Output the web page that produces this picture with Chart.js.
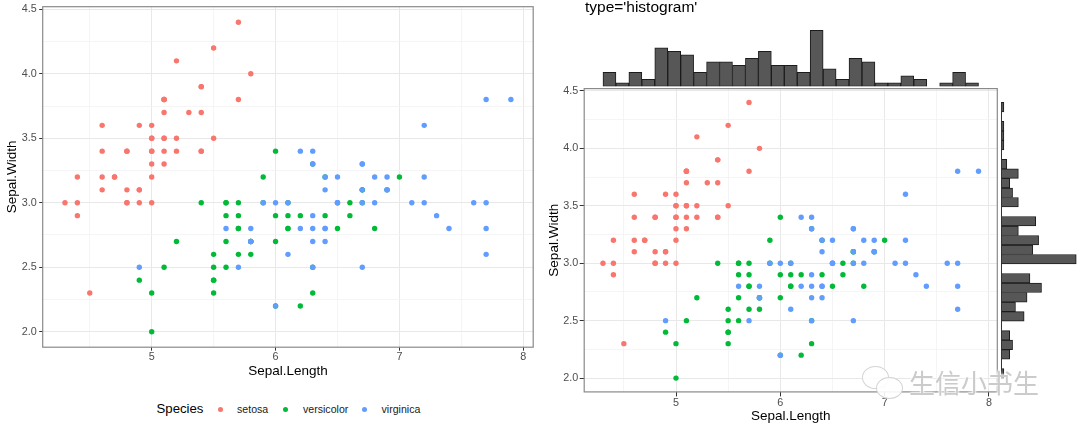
<!DOCTYPE html>
<html><head><meta charset="utf-8">
<script src="https://cdn.jsdelivr.net/npm/chart.js@4.4.1/dist/chart.umd.min.js"></script>
<style>
html,body{margin:0;padding:0;background:#fff;}
body{width:1080px;height:432px;position:relative;overflow:hidden;font-family:"Liberation Sans",Arial,sans-serif;}
canvas{position:absolute;}
.t{position:absolute;white-space:nowrap;}
.dot{position:absolute;width:5px;height:5px;border-radius:50%;}
</style></head><body>
<canvas id="cL" width="540" height="380" style="left:0;top:0;width:540px;height:380px"></canvas>
<canvas id="cR" width="460" height="352" style="left:540px;top:80px;width:460px;height:352px"></canvas>
<canvas id="cTop" width="420" height="70" style="left:580px;top:20px;width:420px;height:70px"></canvas>
<canvas id="cSide" width="82" height="352" style="left:998px;top:80px;width:82px;height:352px"></canvas>

<!-- legend of left panel -->
<div class="t" style="left:156.5px;top:400px;height:18px;line-height:18px;font-size:13.2px;color:#000">Species</div>
<div class="dot" style="left:217.5px;top:406.5px;background:#F8766D"></div>
<div class="t" style="left:237px;top:400px;height:18px;line-height:18px;font-size:10.6px;color:#1a1a1a">setosa</div>
<div class="dot" style="left:283px;top:406.5px;background:#00BA38"></div>
<div class="t" style="left:303px;top:400px;height:18px;line-height:18px;font-size:10.6px;color:#1a1a1a">versicolor</div>
<div class="dot" style="left:362px;top:406.5px;background:#619CFF"></div>
<div class="t" style="left:381.5px;top:400px;height:18px;line-height:18px;font-size:10.6px;color:#1a1a1a">virginica</div>

<!-- title of right panel -->
<div class="t" style="left:585px;top:-2px;font-size:15.5px;line-height:18px;color:#000">type='histogram'</div>

<!-- watermark -->
<div style="position:absolute;left:862px;top:366px;width:25px;height:21px;border:1.5px solid #d4d4d4;border-radius:50%;background:rgba(255,255,255,0.85)"></div>
<div style="position:absolute;left:876px;top:377px;width:25px;height:20px;border:1.5px solid #d4d4d4;border-radius:50%;background:rgba(255,255,255,0.9)"></div>
<div class="t" style="left:909px;top:369px;font-family:'Noto Sans CJK SC';font-size:26px;line-height:26px;color:#cbcbcb;text-shadow:0 0 2px #fff,0 0 2px #fff,0 0 3px #fff">生信小书生</div>

<script>
// ---------------- data ----------------
const SPECIES = ['setosa', 'versicolor', 'virginica'];
const SETOSA_LENGTH = [5.1,4.9,4.7,4.6,5.0,5.4,4.6,5.0,4.4,4.9,5.4,4.8,4.8,4.3,5.8,5.7,5.4,5.1,5.7,5.1,5.4,5.1,4.6,5.1,4.8,5.0,5.0,5.2,5.2,4.7,4.8,5.4,5.2,5.5,4.9,5.0,5.5,4.9,4.4,5.1,5.0,4.5,4.4,5.0,5.1,4.8,5.1,4.6,5.3,5.0];
const SETOSA_WIDTH  = [3.5,3.0,3.2,3.1,3.6,3.9,3.4,3.4,2.9,3.1,3.7,3.4,3.0,3.0,4.0,4.4,3.9,3.5,3.8,3.8,3.4,3.7,3.6,3.3,3.4,3.0,3.4,3.5,3.4,3.2,3.1,3.4,4.1,4.2,3.1,3.2,3.5,3.6,3.0,3.4,3.5,2.3,3.2,3.5,3.8,3.0,3.8,3.2,3.7,3.3];
const VERSICOLOR_LENGTH = [7.0,6.4,6.9,5.5,6.5,5.7,6.3,4.9,6.6,5.2,5.0,5.9,6.0,6.1,5.6,6.7,5.6,5.8,6.2,5.6,5.9,6.1,6.3,6.1,6.4,6.6,6.8,6.7,6.0,5.7,5.5,5.5,5.8,6.0,5.4,6.0,6.7,6.3,5.6,5.5,5.5,6.1,5.8,5.0,5.6,5.7,5.7,6.2,5.1,5.7];
const VERSICOLOR_WIDTH  = [3.2,3.2,3.1,2.3,2.8,2.8,3.3,2.4,2.9,2.7,2.0,3.0,2.2,2.9,2.9,3.1,3.0,2.7,2.2,2.5,3.2,2.8,2.5,2.8,2.9,3.0,2.8,3.0,2.9,2.6,2.4,2.4,2.7,2.7,3.0,3.4,3.1,2.3,3.0,2.5,2.6,3.0,2.6,2.3,2.7,3.0,2.9,2.9,2.5,2.8];
const VIRGINICA_LENGTH = [6.3,5.8,7.1,6.3,6.5,7.6,4.9,7.3,6.7,7.2,6.5,6.4,6.8,5.7,5.8,6.4,6.5,7.7,7.7,6.0,6.9,5.6,7.7,6.3,6.7,7.2,6.2,6.1,6.4,7.2,7.4,7.9,6.4,6.3,6.1,7.7,6.3,6.4,6.0,6.9,6.7,6.9,5.8,6.8,6.7,6.7,6.3,6.5,6.2,5.9];
const VIRGINICA_WIDTH  = [3.3,2.7,3.0,2.9,3.0,3.0,2.5,2.9,2.5,3.6,3.2,2.7,3.0,2.5,2.8,3.2,3.0,3.8,2.6,2.2,3.2,2.8,2.8,2.7,3.3,3.2,2.8,3.0,2.8,3.0,2.8,3.8,2.8,2.8,2.6,3.0,3.4,3.1,3.0,3.1,3.1,3.1,2.7,3.2,3.3,3.0,2.5,3.0,3.4,3.0];

// axis ticks (major labelled, minor grid only)
const X_MAJOR = [5, 6, 7, 8];
const X_MINOR = [4.5, 5.5, 6.5, 7.5];
const Y_MAJOR = [2.0, 2.5, 3.0, 3.5, 4.0, 4.5];
const Y_MINOR = [2.25, 2.75, 3.25, 3.75, 4.25];

// marginal histograms (29 bins each, counts)
const LENGTH_BIN_RANGE = [4.3, 7.9];
const LENGTH_HIST_COUNTS = [4,1,4,2,11,10,9,4,7,7,6,8,10,6,6,4,16,5,2,8,7,1,1,3,2,0,1,4,1];
const WIDTH_BIN_RANGE = [2.0, 4.4];
const WIDTH_HIST_COUNTS = [1,0,3,4,3,0,8,5,9,14,10,0,26,11,13,6,12,0,6,4,3,6,2,0,1,1,1,0,1];

const COLORS = {setosa:'#F8766D', versicolor:'#00BA38', virginica:'#619CFF'};
const X_LIMITS = [4.12, 8.08];
const Y_LIMITS = [1.88, 4.52];

// ---------------- helpers ----------------
const FONT = '"Liberation Sans", Arial, sans-serif';
const near = (arr, v) => arr.some(a => Math.abs(a - v) < 1e-6);
const pts = (xs, ys) => xs.map((x, i) => ({x, y: ys[i]}));
const binCenters = (range, n) => Array.from({length: n}, (_, i) => range[0] + (i + 0.5) * (range[1] - range[0]) / n);

const panelBorder = {
  id: 'panelBorder',
  afterDatasetsDraw(chart) {
    const {ctx, chartArea: a} = chart;
    ctx.save();
    ctx.strokeStyle = '#8a8a8a';
    ctx.lineWidth = 1.2;
    ctx.strokeRect(a.left, a.top, a.right - a.left, a.bottom - a.top);
    ctx.restore();
  }
};

function gridOpts(major, tl) {
  return {
    color: c => near(major, c.tick.value) ? '#e8e8e8' : '#f3f3f3',
    lineWidth: c => near(major, c.tick.value) ? 1 : 0.8,
    tickColor: c => near(major, c.tick.value) ? '#333333' : 'rgba(0,0,0,0)',
    tickWidth: 1,
    tickLength: tl,
    drawTicks: true
  };
}

function scatter(id, g) {
  const datasets = [
    {label: SPECIES[0], data: pts(SETOSA_LENGTH, SETOSA_WIDTH), backgroundColor: COLORS.setosa, order: 2},
    {label: SPECIES[1], data: pts(VERSICOLOR_LENGTH, VERSICOLOR_WIDTH), backgroundColor: COLORS.versicolor, order: 1},
    {label: SPECIES[2], data: pts(VIRGINICA_LENGTH, VIRGINICA_WIDTH), backgroundColor: COLORS.virginica, order: 0}
  ];
  return new Chart(document.getElementById(id), {
    type: 'scatter',
    data: {datasets},
    options: {
      responsive: false, animation: false, devicePixelRatio: 1,
      layout: {padding: {top: g.padTop, right: g.padRight, left: 0, bottom: 0}},
      plugins: {legend: {display: false}, tooltip: {enabled: false}},
      elements: {point: {radius: 2.7, hoverRadius: 2.7, borderWidth: 0}},
      scales: {
        x: {
          type: 'linear', min: X_LIMITS[0], max: X_LIMITS[1],
          afterBuildTicks: s => { s.ticks = [...X_MINOR, ...X_MAJOR].sort((a, b) => a - b).map(v => ({value: v})); },
          afterFit: s => { s.height = g.xh; s.paddingLeft = 0; s.paddingRight = 0; },
          ticks: {autoSkip: false, maxRotation: 0, padding: g.xpad, color: '#4d4d4d',
                  font: {family: FONT, size: 10.8},
                  callback: v => near(X_MAJOR, v) ? String(Math.round(v)) : ''},
          grid: gridOpts(X_MAJOR, g.tl),
          border: {display: false},
          title: {display: true, text: 'Sepal.Length', color: '#000', font: {family: FONT, size: 13.5},
                  padding: {top: 0, bottom: g.xtp}}
        },
        y: {
          type: 'linear', min: Y_LIMITS[0], max: Y_LIMITS[1],
          afterBuildTicks: s => { s.ticks = [...Y_MINOR, ...Y_MAJOR].sort((a, b) => a - b).map(v => ({value: v})); },
          afterFit: s => { s.width = g.yw; s.paddingTop = 0; s.paddingBottom = 0; },
          ticks: {autoSkip: false, padding: g.ypad, color: '#4d4d4d',
                  font: {family: FONT, size: 10.8},
                  callback: v => near(Y_MAJOR, v) ? v.toFixed(1) : ''},
          grid: gridOpts(Y_MAJOR, g.tl),
          border: {display: false},
          title: {display: true, text: 'Sepal.Width', color: '#000', font: {family: FONT, size: 13.5},
                  padding: {top: g.ytp, bottom: 0}}
        }
      }
    },
    plugins: [panelBorder]
  });
}

// left panel
scatter('cL', {padTop: 6.7, padRight: 6.8, xh: 32.8, yw: 42.7, tl: 3.5, xpad: 0.2, ypad: 2.5, xtp: 0.2, ytp: 3.9});
// right panel
scatter('cR', {padTop: 8.6, padRight: 2.7, xh: 40.1, yw: 44.2, tl: 4.5, xpad: 0, ypad: 1.4, xtp: 7.2, ytp: 6.0});

// top marginal histogram (Sepal.Length)
const lengthCenters = binCenters(LENGTH_BIN_RANGE, LENGTH_HIST_COUNTS.length);
new Chart(document.getElementById('cTop'), {
  type: 'bar',
  data: {datasets: [{
    data: LENGTH_HIST_COUNTS.map((c, i) => ({x: lengthCenters[i], y: c})),
    backgroundColor: '#575757', borderColor: '#1c1c1c', borderWidth: 1, borderSkipped: false,
    barPercentage: 1, categoryPercentage: 1
  }]},
  options: {
    responsive: false, animation: false, devicePixelRatio: 1,
    layout: {padding: {left: 4.2, right: 2.7, top: 7.6, bottom: 3.6}},
    plugins: {legend: {display: false}, tooltip: {enabled: false}},
    scales: {
      x: {type: 'linear', display: false, offset: false, min: X_LIMITS[0], max: X_LIMITS[1], grid: {offset: false}},
      y: {type: 'linear', display: false, min: 0, max: 16.8}
    }
  }
});

// right marginal histogram (Sepal.Width)
const widthCenters = binCenters(WIDTH_BIN_RANGE, WIDTH_HIST_COUNTS.length);
const sideBaseline = {
  id: 'sideBaseline',
  afterDatasetsDraw(chart) {
    const {ctx, scales: {x, y}} = chart;
    const px = Math.round(x.getPixelForValue(0)) + 0.5;
    ctx.save();
    ctx.strokeStyle = '#333';
    ctx.lineWidth = 1;
    ctx.beginPath();
    ctx.moveTo(px, y.getPixelForValue(WIDTH_BIN_RANGE[1]));
    ctx.lineTo(px, y.getPixelForValue(WIDTH_BIN_RANGE[0]));
    ctx.stroke();
    ctx.restore();
  }
};
new Chart(document.getElementById('cSide'), {
  type: 'bar',
  data: {datasets: [{
    data: WIDTH_HIST_COUNTS.map((c, i) => ({x: c, y: widthCenters[i]})),
    backgroundColor: '#575757', borderColor: '#1c1c1c', borderWidth: 1, borderSkipped: false,
    barPercentage: 1, categoryPercentage: 1
  }]},
  options: {
    indexAxis: 'y',
    responsive: false, animation: false, devicePixelRatio: 1,
    layout: {padding: {left: 3, right: 0, top: 8.6, bottom: 40.1}},
    plugins: {legend: {display: false}, tooltip: {enabled: false}},
    scales: {
      y: {type: 'linear', display: false, offset: false, min: Y_LIMITS[0], max: Y_LIMITS[1], grid: {offset: false}},
      x: {type: 'linear', display: false, min: 0, max: 27.3}
    }
  },
  plugins: [sideBaseline]
});
</script>
</body></html>
